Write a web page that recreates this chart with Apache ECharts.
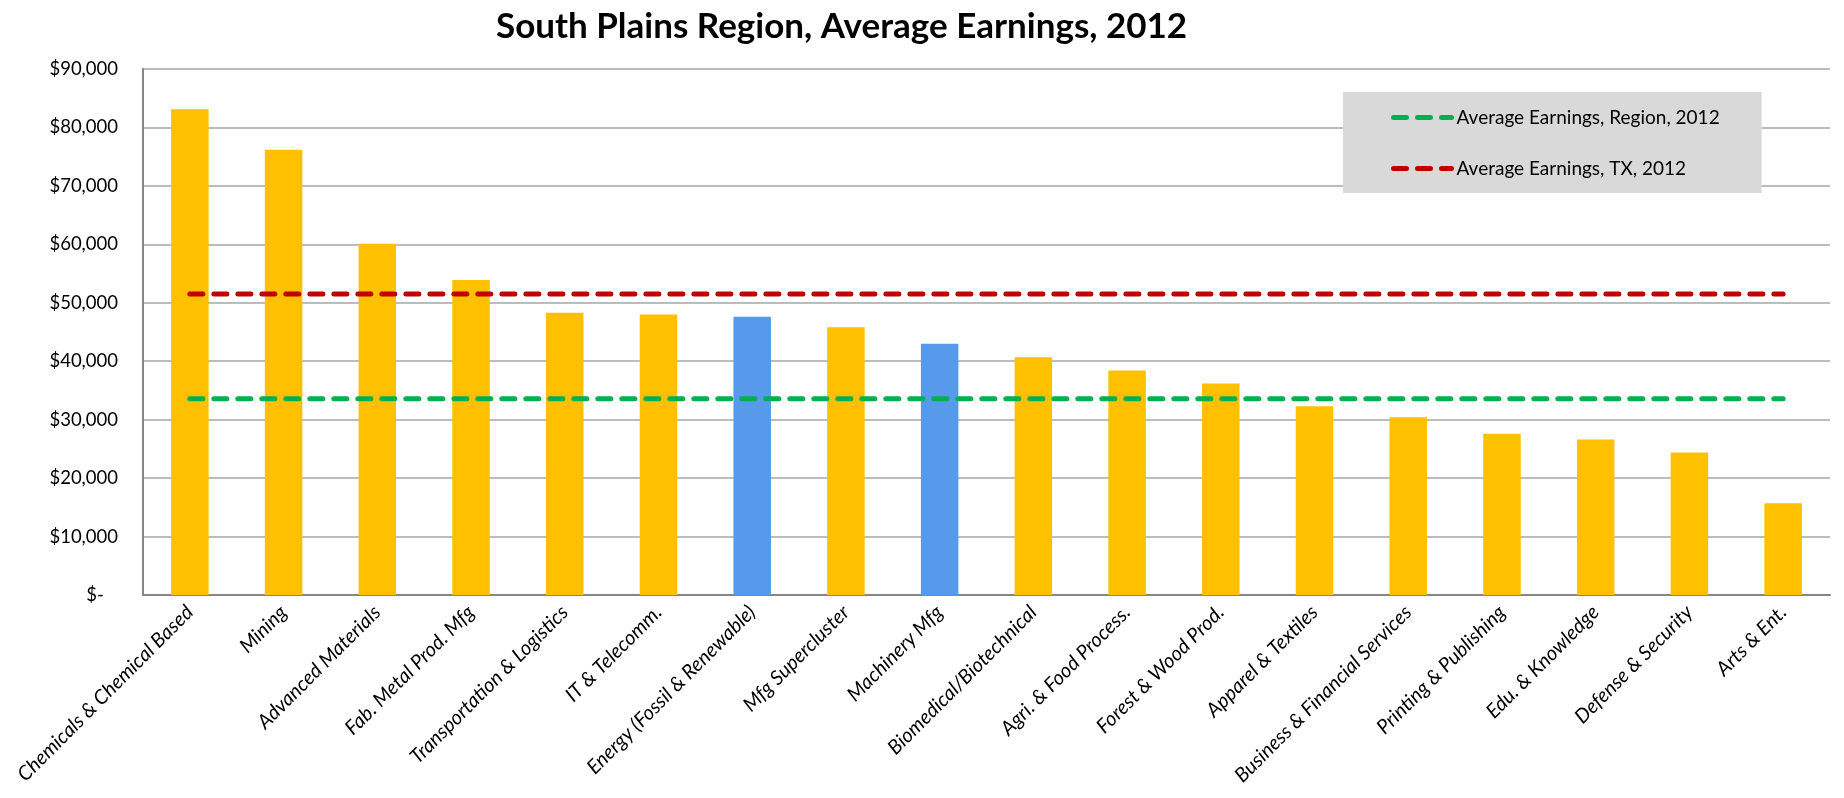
<!DOCTYPE html>
<html><head><meta charset="utf-8">
<script src="https://cdn.jsdelivr.net/npm/echarts@6/dist/echarts.min.js"></script>
<style>html,body{margin:0;padding:0;background:#fff}#c{width:1844px;height:798px}</style>
</head><body><div id="c"></div>
<script>
const categories = ["Chemicals & Chemical Based","Mining","Advanced Materials","Fab. Metal Prod. Mfg","Transportation & Logistics","IT & Telecomm.","Energy (Fossil & Renewable)","Mfg Supercluster","Machinery Mfg","Biomedical/Biotechnical","Agri. & Food Process.","Forest & Wood Prod.","Apparel & Textiles","Business & Financial Services","Printing & Publishing","Edu. & Knowledge","Defense & Security","Arts & Ent."];
const earnings = [83100,76200,60100,53900,48300,48000,47600,45800,43000,40700,38400,36200,32300,30400,27600,26600,24400,15700];
const highlighted = ["Energy (Fossil & Renewable)","Machinery Mfg"];
const regionAvg = 33600;
const txAvg = 51500;
const yTicks = {min:0, max:90000, interval:10000};

const FONT = 'Lato';
const chart = echarts.init(document.getElementById('c'));
chart.setOption({
  animation:false,
  textStyle:{fontFamily:FONT},
  title:{text:'South Plains Region, Average Earnings, 2012', left:491, top:4,
    textStyle:{fontFamily:FONT, fontWeight:'bold', fontSize:35, color:'#000'}},
  legend:{
    data:['Average Earnings, Region, 2012','Average Earnings, TX, 2012'],
    orient:'vertical', left:1343, top:92,
    backgroundColor:'#d9d9d9', padding:[16,42,15,48], itemGap:32,
    itemWidth:58, itemHeight:20,
    lineStyle:{width:5, type:[13,11], cap:'round'},
    itemStyle:{color:'transparent', borderWidth:0},
    textStyle:{fontFamily:FONT, fontSize:19, color:'#000'}
  },
  grid:{left:143, right:14, top:69, bottom:203},
  xAxis:{type:'category', data:categories,
    axisLine:{lineStyle:{color:'#868686', width:2}},
    axisTick:{show:false},
    axisLabel:{rotate:45, interval:0, margin:14, fontStyle:'italic', fontSize:20, color:'#000', fontFamily:FONT}
  },
  yAxis:{type:'value', min:yTicks.min, max:yTicks.max, interval:yTicks.interval,
    axisLine:{show:true, lineStyle:{color:'#868686', width:2}},
    axisTick:{show:false},
    splitLine:{lineStyle:{color:'#a6a6a6', width:1.5}},
    axisLabel:{margin:25, fontSize:18.5, color:'#000', fontFamily:FONT,
      formatter:v => v===0 ? '$-   ' : '$' + v.toLocaleString('en-US')}
  },
  series:[
    {type:'bar', name:'Earnings', data:earnings, barWidth:'40%',
      itemStyle:{color:p => highlighted.includes(categories[p.dataIndex]) ? '#5799ea' : '#ffc000'}},
    {type:'line', name:'Average Earnings, Region, 2012', data:categories.map(()=>regionAvg),
      symbol:'none', color:'#00b050',
      lineStyle:{color:'#00b050', width:5, type:[13,11], cap:'round'}},
    {type:'line', name:'Average Earnings, TX, 2012', data:categories.map(()=>txAvg),
      symbol:'none', color:'#c00000',
      lineStyle:{color:'#c00000', width:5, type:[13,11], cap:'round'}}
  ]
});
</script></body></html>
